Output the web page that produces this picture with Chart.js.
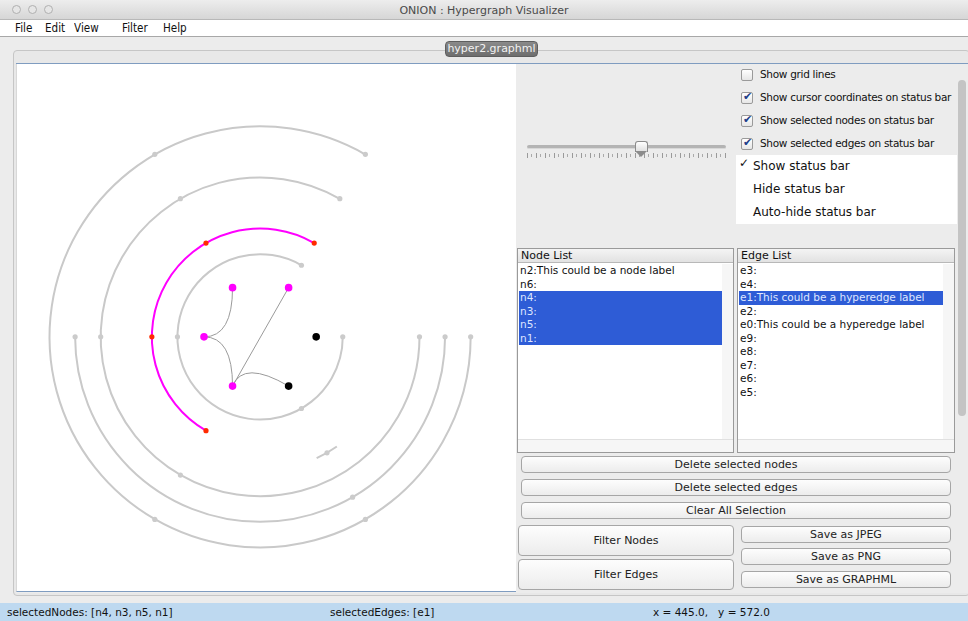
<!DOCTYPE html>
<html>
<head>
<meta charset="utf-8">
<script src="https://cdn.jsdelivr.net/npm/chart.js@4.4.1/dist/chart.umd.min.js"></script>
<style>
  * { box-sizing: border-box; }
  body { margin: 0; width: 968px; height: 621px; overflow: hidden; background: #ececec;
         font-family: "DejaVu Sans", "Noto Sans", sans-serif; font-size: 11px; color: #111; position: relative; }
  .abs { position: absolute; }
  #titlebar { left: 0; top: 0; width: 968px; height: 20px; background: linear-gradient(#ededed, #d6d6d6);
              border-bottom: 1px solid #b8b8b8; text-align: center; line-height: 21px; color: #4a4a4a; font-size: 11px; }
  .light { top: 5px; width: 9px; height: 9px; border-radius: 50%; border: 1px solid #b0b0b0; background: #e6e6e6; }
  #menubar { left: 0; top: 20px; width: 968px; height: 17px; background: #fff; border-bottom: 1px solid #a8a8a8; }
  #menubar span { position: absolute; top: 0px; font-size: 13px; font-family: "DejaVu Sans", sans-serif;
                  transform: scaleX(0.8); transform-origin: left center; }
  #tabpane { left: 13px; top: 50px; width: 957px; height: 546px; border: 1px solid #c6c6c6; border-radius: 4px;
             background: #e8e8e8; }
  #tab { left: 445px; top: 41px; width: 93px; height: 16px; border-radius: 4px; background: linear-gradient(#8a8a8a, #6e6e6e);
         border: 1px solid #5e5e5e; color: #f2f2f2; font-size: 11px; text-align: center; line-height: 14px; }
  #content { left: 16px; top: 63px; width: 952px; height: 530px; border-top: 1px solid #7f9cc0; background: #ececec; }
  #graph { left: 16px; top: 64px; width: 500px; height: 528px; background: #fff; border-bottom: 1px solid #7f9cc0;
           border-left: 1px solid #d8d8d8; }
  canvas#hg { position: absolute; left: 17px; top: 66px; }
  .chk { width: 12px; height: 12px; border: 1px solid #9a9a9a; border-radius: 2px; background: linear-gradient(#fff, #e6e6e6); }
  .chk.on::after { content: "\2714"; position: absolute; left: 1px; top: -3px; font-size: 11px; color: #1d3f8a; }
  .lbl { font-size: 10.5px; letter-spacing: -0.3px; }
  #popup { left: 736px; top: 155px; width: 221px; height: 69px; background: #fff; }
  #popup div { position: absolute; left: 17px; font-size: 12px; }
  #track { left: 527px; top: 145px; width: 199px; height: 4px; border-radius: 2px; background: #b4b4b4; border-bottom: 1px solid #d8d8d8; }
  #ticks { left: 527px; top: 153px; width: 200px; height: 5px;
           background: repeating-linear-gradient(90deg, #9a9a9a 0 1px, transparent 1px 9px); }
  #ticks2 { left: 531px; top: 154px; width: 196px; height: 3px;
           background: repeating-linear-gradient(90deg, #aaaaaa 0 1px, transparent 1px 9px); }
  #thumb { left: 635px; top: 141px; width: 13px; height: 11px; background: linear-gradient(#fff, #ddd);
           border: 1px solid #8c8c8c; border-bottom: none; border-radius: 3px 3px 0 0; }
  #thumbtip { left: 635px; top: 151px; width: 0; height: 0; border-left: 6.5px solid transparent; border-right: 6.5px solid transparent;
              border-top: 6px solid #8c8c8c; }
  .listbox { background: #fff; border: 1px solid #9a9a9a; }
  .lhead { height: 14px; background: linear-gradient(#f4f4f4, #e2e2e2); border-bottom: 1px solid #b8b8b8; font-size: 11px; padding-left: 3px; line-height: 14px; }
  .row { position: absolute; left: 1px; height: 13.5px; line-height: 13.5px; font-size: 10.5px; padding-left: 1px; }
  .row.sel { background: #2e5cd6; color: #dfe6ff; }
  .gutter { background: #f6f6f6; }
  .btn { background: linear-gradient(#fdfdfd, #ececec); border: 1px solid #a6a6a6; border-radius: 4px; text-align: center;
         font-size: 11px; color: #222; }
  #scroll { left: 958px; top: 80px; width: 8px; height: 336px; border-radius: 4px; background: #c4c4c4; }
  #status { left: 0; top: 603px; width: 968px; height: 18px; background: #bed9f0; font-size: 10.5px; line-height: 18px; }
  #status span { position: absolute; }
</style>
</head>
<body>
<div id="titlebar" class="abs">ONION : Hypergraph Visualizer</div>
<div class="abs light" style="left:12px"></div>
<div class="abs light" style="left:28px"></div>
<div class="abs light" style="left:44px"></div>
<div id="menubar" class="abs">
  <span style="left:15px">File</span><span style="left:45px">Edit</span><span style="left:74px">View</span>
  <span style="left:122px">Filter</span><span style="left:163px">Help</span>
</div>
<div id="tabpane" class="abs"></div>
<div id="content" class="abs"></div>
<div id="tab" class="abs">hyper2.graphml</div>
<div id="graph" class="abs"></div>
<canvas id="hg" width="498" height="525"></canvas>

<div id="track" class="abs"></div>
<div id="ticks" class="abs"></div>
<div id="ticks2" class="abs"></div>
<div id="thumb" class="abs"></div>
<div id="thumbtip" class="abs"></div>

<div class="abs chk" style="left:741px;top:69px"></div>
<div class="abs lbl" style="left:760px;top:68px">Show grid lines</div>
<div class="abs chk on" style="left:741px;top:92px"></div>
<div class="abs lbl" style="left:760px;top:91px">Show cursor coordinates on status bar</div>
<div class="abs chk on" style="left:741px;top:115px"></div>
<div class="abs lbl" style="left:760px;top:114px">Show selected nodes on status bar</div>
<div class="abs chk on" style="left:741px;top:138px"></div>
<div class="abs lbl" style="left:760px;top:137px">Show selected edges on status bar</div>
<div id="popup" class="abs">
  <div style="left:3px;top:1px;font-size:12px">&#10003;</div>
  <div style="top:4px">Show status bar</div>
  <div style="top:27px">Hide status bar</div>
  <div style="top:50px">Auto-hide status bar</div>
</div>
<div id="scroll" class="abs"></div>

<div id="nodeList" class="abs listbox" style="left:517px;top:248px;width:217px;height:205px">
  <div class="lhead">Node List</div>
</div>
<div id="edgeList" class="abs listbox" style="left:737px;top:248px;width:218px;height:205px">
  <div class="lhead">Edge List</div>
</div>

<div class="abs btn" style="left:521px;top:456px;width:430px;height:17px;line-height:15px">Delete selected nodes</div>
<div class="abs btn" style="left:521px;top:479px;width:430px;height:17px;line-height:15px">Delete selected edges</div>
<div class="abs btn" style="left:521px;top:502px;width:430px;height:17px;line-height:15px">Clear All Selection</div>
<div class="abs btn" style="left:518px;top:525px;width:216px;height:31px;line-height:29px">Filter Nodes</div>
<div class="abs btn" style="left:518px;top:559px;width:216px;height:31px;line-height:29px">Filter Edges</div>
<div class="abs btn" style="left:741px;top:526px;width:210px;height:17px;line-height:15px">Save as JPEG</div>
<div class="abs btn" style="left:741px;top:548px;width:210px;height:17px;line-height:15px">Save as PNG</div>
<div class="abs btn" style="left:741px;top:571px;width:210px;height:17px;line-height:15px">Save as GRAPHML</div>

<div id="status" class="abs">
  <span style="left:7px">selectedNodes: [n4, n3, n5, n1]</span>
  <span style="left:330px">selectedEdges: [e1]</span>
  <span style="left:653px">x = 445.0,&nbsp;&nbsp; y = 572.0</span>
</div>

<script>
// hypergraph layout, panel coordinates (y grows downward)
const centerX = 243;
const centerY = 271;

// nodes
const nodeNames = ['n4', 'n3', 'n5', 'n2', 'n1', 'n6'];
const nodeX = [215, 272, 186, 300, 215, 272];
const nodeY = [221, 221, 271, 271, 321, 321];
const nodeSelected = [true, true, true, false, true, false];

// plain edges between nodes (index pairs) with their curve control points
const edgeFrom = [0, 2, 1, 4];
const edgeTo = [2, 4, 4, 5];
const edgeCtrlX = [215, 215, 243.5, 226];
const edgeCtrlY = [271, 271, 271, 294];

// hyperedges drawn as concentric arcs (angles in degrees, counter-clockwise)
const arcRadius = [214, 162, 188, 110, 84, 136];
const arcStart = [60, 60, 180, 60, 60, 295];
const arcEnd = [360, 360, 360, 240, 360, 305];
const arcSelected = [false, false, false, true, false, false];
const arcNodeAngles = [
  [60, 120, 240, 300, 360],
  [60, 120, 180, 240, 360],
  [180, 300, 360],
  [60, 120, 180, 240],
  [60, 180, 300, 360],
  [300],
];

// node lists
const nodeListItems = ['n2:This could be a node label', 'n6:', 'n4:', 'n3:', 'n5:', 'n1:'];
const nodeListSel = [false, false, true, true, true, true];
const edgeListItems = ['e3:', 'e4:', 'e1:This could be a hyperedge label', 'e2:',
  'e0:This could be a hyperedge label', 'e9:', 'e8:', 'e7:', 'e6:', 'e5:'];
const edgeListSel = [false, false, true, false, false, false, false, false, false, false];

function fillList(id, items, sel, width, selWidth) {
  const box = document.getElementById(id);
  items.forEach((t, i) => {
    const r = document.createElement('div');
    r.className = 'row' + (sel[i] ? ' sel' : '');
    r.style.top = (15 + i * 13.5) + 'px';
    r.style.width = selWidth + 'px';
    r.textContent = t;
    box.appendChild(r);
  });
  const g = document.createElement('div');
  g.className = 'gutter';
  g.style.cssText = `position:absolute;left:${selWidth + 1}px;top:15px;width:${width - selWidth - 3}px;height:175px`;
  box.appendChild(g);
  const h = document.createElement('div');
  h.className = 'gutter';
  h.style.cssText = 'position:absolute;left:0;top:190px;width:100%;height:13px;border-top:1px solid #e0e0e0';
  box.appendChild(h);
}
fillList('nodeList', nodeListItems, nodeListSel, 217, 203);
fillList('edgeList', edgeListItems, edgeListSel, 218, 204);

const rad = (d) => d * Math.PI / 180;

const hyperPlugin = {
  id: 'hyperPlugin',
  beforeDatasetsDraw(chart) {
    const { ctx, scales: { x, y } } = chart;
    const cx = x.getPixelForValue(centerX);
    const cy = y.getPixelForValue(centerY);
    ctx.save();

    // arcs
    arcRadius.forEach((r, i) => {
      const pr = Math.abs(x.getPixelForValue(centerX + r) - cx);
      ctx.strokeStyle = arcSelected[i] ? '#ff00ff' : '#c9c9c9';
      ctx.lineWidth = 2;
      ctx.beginPath();
      ctx.arc(cx, cy, pr, -rad(arcStart[i]), -rad(arcEnd[i]), true);
      ctx.stroke();
    });

    // node edges
    ctx.strokeStyle = '#9a9a9a';
    ctx.lineWidth = 1;
    edgeFrom.forEach((a, i) => {
      const b = edgeTo[i];
      ctx.beginPath();
      ctx.moveTo(x.getPixelForValue(nodeX[a]), y.getPixelForValue(nodeY[a]));
      ctx.quadraticCurveTo(x.getPixelForValue(edgeCtrlX[i]), y.getPixelForValue(edgeCtrlY[i]),
        x.getPixelForValue(nodeX[b]), y.getPixelForValue(nodeY[b]));
      ctx.stroke();
    });
    ctx.restore();
  },
};

// points sitting on the arcs
const hyperPts = [];
const hyperCols = [];
arcNodeAngles.forEach((angles, i) => {
  angles.forEach((a) => {
    hyperPts.push({ x: centerX + arcRadius[i] * Math.cos(rad(a)), y: centerY - arcRadius[i] * Math.sin(rad(a)) });
    hyperCols.push(arcSelected[i] ? '#ff2a00' : '#cbcbcb');
  });
});

new Chart(document.getElementById('hg').getContext('2d'), {
  type: 'scatter',
  plugins: [hyperPlugin],
  data: {
    datasets: [
      {
        label: 'nodes',
        data: nodeX.map((v, i) => ({ x: v, y: nodeY[i] })),
        backgroundColor: nodeSelected.map((s) => (s ? '#ff00ff' : '#000000')),
        borderWidth: 0,
        pointRadius: 3.8,
      },
      {
        label: 'hypernodes',
        data: hyperPts,
        backgroundColor: hyperCols,
        borderWidth: 0,
        pointRadius: 2.6,
      },
    ],
  },
  options: {
    responsive: false,
    animation: false,
    events: [],
    layout: { padding: 0 },
    plugins: { legend: { display: false }, tooltip: { enabled: false } },
    scales: {
      x: { type: 'linear', min: 0, max: 498, display: false },
      y: { type: 'linear', min: 0, max: 525, reverse: true, display: false },
    },
  },
});
</script>
</body>
</html>
